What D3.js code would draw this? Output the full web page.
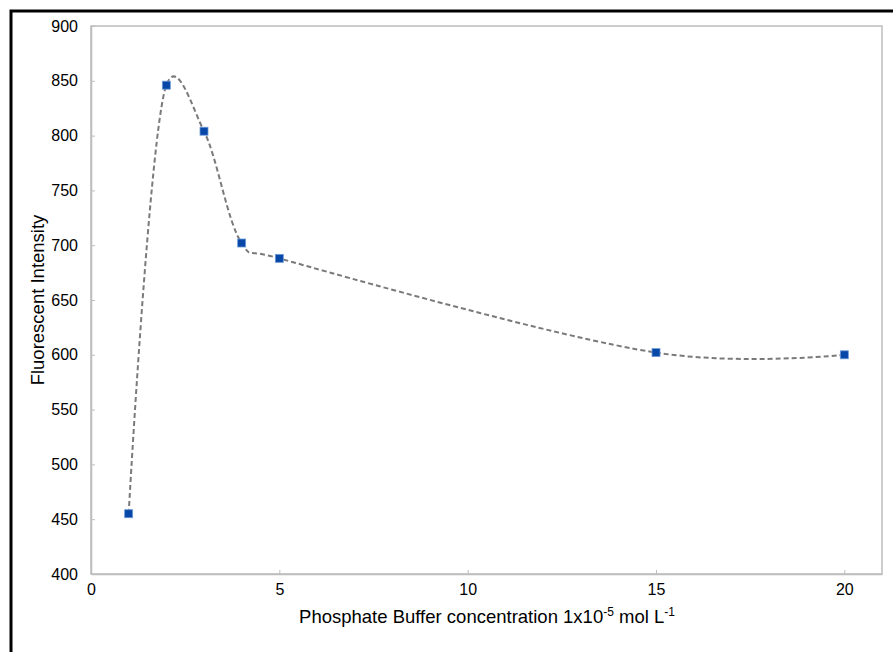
<!DOCTYPE html>
<html><head><meta charset="utf-8">
<script src="https://cdn.jsdelivr.net/npm/d3@7"></script>
<style>body{margin:0;background:#fff;}svg{display:block;font-family:"Liberation Sans",Arial,sans-serif;}</style>
</head><body>
<svg id="c" width="893" height="652"></svg>
<script>
const concentration = [1, 2, 3, 4, 5, 15, 20];
const intensity = [455, 846, 804, 702, 688, 602, 600];
const xTicks = [0, 5, 10, 15, 20];
const yTicks = [400, 450, 500, 550, 600, 650, 700, 750, 800, 850, 900];

const svg = d3.select("#c");
const L = 91, T = 26, R = 882, B = 574;
const x = d3.scaleLinear().domain([0, 21]).range([L, R]);
const y = d3.scaleLinear().domain([400, 900]).range([B, T]);

// outer frame
svg.append("rect").attr("x", 11).attr("y", 11).attr("width", 900).attr("height", 700)
  .attr("fill", "none").attr("stroke", "#000").attr("stroke-width", 3);

// plot frame
svg.append("rect").attr("x", L).attr("y", T).attr("width", R - L).attr("height", B - T)
  .attr("fill", "none").attr("stroke", "#bdbdbd").attr("stroke-width", 1.5);

// axes
const xAxis = svg.append("g").attr("transform", `translate(0,${B})`)
  .call(d3.axisBottom(x).tickValues(xTicks).tickSizeInner(-4).tickSizeOuter(0).tickPadding(10));
const yAxis = svg.append("g").attr("transform", `translate(${L},0)`)
  .call(d3.axisLeft(y).tickValues(yTicks).tickSizeInner(-4).tickSizeOuter(0).tickPadding(13));
[xAxis, yAxis].forEach(g => {
  g.select(".domain").attr("stroke", "#bdbdbd").attr("stroke-width", 1.5);
  g.selectAll(".tick line").attr("stroke", "#bdbdbd");
  g.selectAll(".tick text").attr("fill", "#000").style("font-size", "16px")
    .style("font-family", "'Liberation Sans', Arial, sans-serif");
});

// line
const pts = concentration.map((c, i) => [c, intensity[i]]);
const line = d3.line().x(d => x(d[0])).y(d => y(d[1])).curve(d3.curveCatmullRom.alpha(0.2));
svg.append("path").attr("d", line(pts)).attr("fill", "none")
  .attr("stroke", "#7a7a7a").attr("stroke-width", 2).attr("stroke-dasharray", "5,3");

// markers
svg.selectAll("rect.m").data(pts).enter().append("rect").attr("class", "m")
  .attr("x", d => x(d[0]) - 4).attr("y", d => y(d[1]) - 4)
  .attr("width", 8).attr("height", 8)
  .attr("fill", "#0647a8").attr("stroke", "#6f9bd8").attr("stroke-width", 0.8);

// titles
const xt = svg.append("text").attr("x", 487).attr("y", 623).attr("text-anchor", "middle")
  .style("font-size", "18.5px").attr("fill", "#000");
xt.append("tspan").text("Phosphate Buffer concentration 1x10");
xt.append("tspan").attr("dy", -7).style("font-size", "12px").text("-5");
xt.append("tspan").attr("dy", 7).text(" mol L");
xt.append("tspan").attr("dy", -7).style("font-size", "12px").text("-1");

svg.append("text").attr("transform", "translate(44,300) rotate(-90)").attr("text-anchor", "middle")
  .style("font-size", "18.5px").attr("fill", "#000").text("Fluorescent Intensity");
</script>
</body></html>
